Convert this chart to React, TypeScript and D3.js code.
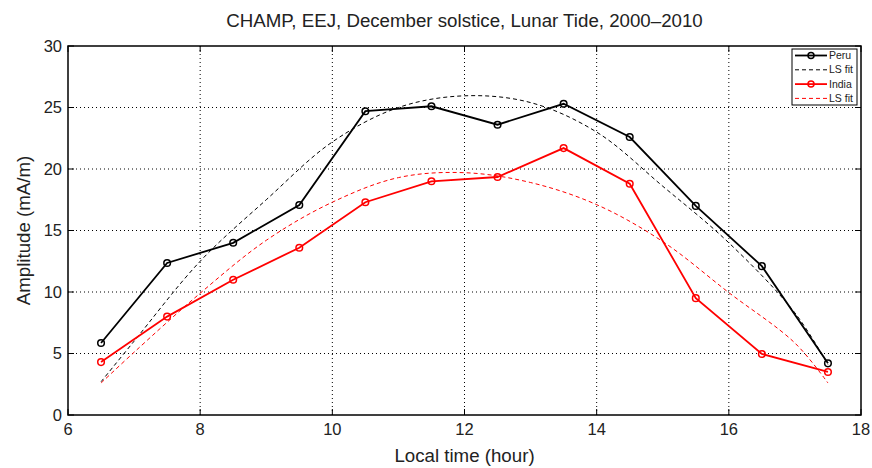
import React from "react";
import * as d3 from "d3";

const hours = [6.5, 7.5, 8.5, 9.5, 10.5, 11.5, 12.5, 13.5, 14.5, 15.5, 16.5, 17.5];
const peru = [5.85, 12.36, 14.0, 17.07, 24.7, 25.1, 23.6, 25.3, 22.6, 17.0, 12.1, 4.2];
const india = [4.3, 8.0, 11.0, 13.6, 17.3, 19.0, 19.35, 21.7, 18.8, 9.5, 4.96, 3.5];

const fitHours = [6.5, 7, 8, 9, 10, 11, 12, 13, 14, 15, 16, 17, 17.5];
const peruFit = [2.7, 6.0, 12.5, 17.5, 22.2, 25.0, 25.95, 25.4, 23.0, 18.6, 14.0, 8.3, 4.1];
const indiaFit = [2.6, 5.1, 9.9, 14.2, 17.3, 19.3, 19.7, 18.9, 17.1, 14.1, 9.95, 5.85, 2.6];

const xTicks = [6, 8, 10, 12, 14, 16, 18];
const yTicks = [0, 5, 10, 15, 20, 25, 30];

const title = "CHAMP, EEJ, December solstice, Lunar Tide, 2000\u20132010";
const xLabel = "Local time (hour)";
const yLabel = "Amplitude (mA/m)";
const legendItems = [
  { label: "Peru", color: "#000", dashed: false },
  { label: "LS fit", color: "#000", dashed: true },
  { label: "India", color: "#ff0000", dashed: false },
  { label: "LS fit", color: "#ff0000", dashed: true },
];

export default function App() {
  const W = 872, H = 468;
  const L = 68, R = 861, T = 46, B = 415;
  const x = d3.scaleLinear().domain([6, 18]).range([L, R]);
  const y = d3.scaleLinear().domain([0, 30]).range([B, T]);
  const font = "'Liberation Sans', Arial, Helvetica, sans-serif";

  const line = d3.line<number>().x((_, i) => x(hours[i])).y((d) => y(d));
  const fitLine = d3
    .line<number>()
    .x((_, i) => x(fitHours[i]))
    .y((d) => y(d))
    .curve(d3.curveCatmullRom.alpha(0.5));

  const legX = 792, legY = 49, legW = 65, legH = 56;

  return (
    <svg width={W} height={H} style={{ position: "absolute", left: 0, top: 0, background: "#fff" }}>
      <rect x={0} y={0} width={W} height={H} fill="#fff" />
      {/* grid */}
      {xTicks.slice(1, -1).map((t) => (
        <line key={"gx" + t} x1={x(t)} x2={x(t)} y1={T} y2={B} stroke="#000" strokeWidth={1} strokeDasharray="1,3" />
      ))}
      {yTicks.slice(1, -1).map((t) => (
        <line key={"gy" + t} x1={L} x2={R} y1={y(t)} y2={y(t)} stroke="#000" strokeWidth={1} strokeDasharray="1,3" />
      ))}
      {/* ticks */}
      {xTicks.map((t) => (
        <g key={"tx" + t}>
          <line x1={x(t)} x2={x(t)} y1={B} y2={B - 6} stroke="#000" />
          <line x1={x(t)} x2={x(t)} y1={T} y2={T + 6} stroke="#000" />
          <text x={x(t)} y={B + 20} textAnchor="middle" fontSize={16.5} fontFamily={font} fill="#222">
            {t}
          </text>
        </g>
      ))}
      {yTicks.map((t) => (
        <g key={"ty" + t}>
          <line x1={L} x2={L + 6} y1={y(t)} y2={y(t)} stroke="#000" />
          <line x1={R} x2={R - 6} y1={y(t)} y2={y(t)} stroke="#000" />
          <text x={L - 6} y={y(t) + 5.5} textAnchor="end" fontSize={16.5} fontFamily={font} fill="#222">
            {t}
          </text>
        </g>
      ))}
      <rect x={L} y={T} width={R - L} height={B - T} fill="none" stroke="#000" strokeWidth={1.5} />

      {/* fits */}
      <path d={fitLine(peruFit) || ""} fill="none" stroke="#000" strokeWidth={1} strokeDasharray="4,3" />
      <path d={fitLine(indiaFit) || ""} fill="none" stroke="#ff0000" strokeWidth={1} strokeDasharray="4,3" />

      {/* data */}
      <path d={line(peru) || ""} fill="none" stroke="#000" strokeWidth={1.8} />
      {peru.map((v, i) => (
        <circle key={"pc" + i} cx={x(hours[i])} cy={y(v)} r={3.3} fill="none" stroke="#000" strokeWidth={1.5} />
      ))}
      <path d={line(india) || ""} fill="none" stroke="#ff0000" strokeWidth={1.8} />
      {india.map((v, i) => (
        <circle key={"ic" + i} cx={x(hours[i])} cy={y(v)} r={3.3} fill="none" stroke="#ff0000" strokeWidth={1.5} />
      ))}

      {/* legend */}
      <rect x={legX} y={legY} width={legW} height={legH} fill="#fff" stroke="#000" strokeWidth={1} />
      {legendItems.map((it, i) => {
        const ly = legY + 6.5 + i * 14.3;
        return (
          <g key={"lg" + i}>
            <line
              x1={legX + 3}
              x2={legX + 35}
              y1={ly}
              y2={ly}
              stroke={it.color}
              strokeWidth={it.dashed ? 1 : 1.8}
              strokeDasharray={it.dashed ? "4,3" : undefined}
            />
            {!it.dashed && <circle cx={legX + 19} cy={ly} r={3} fill="none" stroke={it.color} strokeWidth={1.5} />}
            <text x={legX + 37} y={ly + 3.6} fontSize={10.5} fontFamily={font} fill="#222">
              {it.label}
            </text>
          </g>
        );
      })}

      {/* labels */}
      <text x={(L + R) / 2} y={27} textAnchor="middle" fontSize={18.7} fontFamily={font} fill="#222">
        {title}
      </text>
      <text x={(L + R) / 2} y={462} textAnchor="middle" fontSize={18.7} fontFamily={font} fill="#222">
        {xLabel}
      </text>
      <text
        transform={`translate(30,${(T + B) / 2}) rotate(-90)`}
        textAnchor="middle"
        fontSize={18.7}
        fontFamily={font}
        fill="#222"
      >
        {yLabel}
      </text>
    </svg>
  );
}
